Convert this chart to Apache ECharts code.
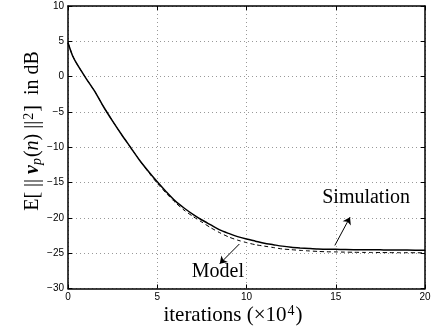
<!DOCTYPE html>
<html>
<head>
<meta charset="utf-8">
<script src="https://cdn.jsdelivr.net/npm/echarts@6/dist/echarts.min.js"></script>
<style>
  html, body { margin: 0; padding: 0; background: #fff; }
  #chart { width: 434px; height: 330px; }
</style>
</head>
<body>
<div id="chart"></div>
<script>
// iterations, in units of 1e4
var iters = [0, 0.25, 0.5, 1, 1.5, 2, 2.5, 3, 3.5, 4, 4.5, 5, 5.5, 6, 6.5, 7, 7.5, 8, 8.5, 9, 9.5,
             10, 10.5, 11, 11.5, 12, 12.5, 13, 13.5, 14, 14.5, 15, 15.5, 16, 16.5, 17, 17.5, 18, 18.5, 19, 19.5, 20];
var simulation = [4.8, 3.0, 1.8, -0.2, -2.1, -4.3, -6.3, -8.2, -10.0, -11.8, -13.4, -14.9, -16.3, -17.6, -18.6, -19.5, -20.3, -21.0, -21.7, -22.2, -22.65,
                  -23.0, -23.3, -23.6, -23.8, -24.0, -24.15, -24.25, -24.33, -24.4, -24.43, -24.45, -24.48, -24.5, -24.5, -24.5, -24.52, -24.55, -24.55, -24.55, -24.57, -24.6];
var model = [4.8, 3.0, 1.8, -0.2, -2.1, -4.3, -6.3, -8.2, -10.0, -11.8, -13.5, -15.1, -16.5, -17.8, -18.9, -19.8, -20.6, -21.4, -22.1, -22.7, -23.15,
             -23.5, -23.8, -24.0, -24.2, -24.4, -24.5, -24.6, -24.68, -24.75, -24.8, -24.82, -24.85, -24.87, -24.89, -24.9, -24.91, -24.92, -24.93, -24.93, -24.94, -24.95];

// annotation text positions and arrows (data coordinates)
var noteNames = ['Simulation', 'Model'];
var noteAt = [[16.7, -17.1], [8.4, -27.6]];
var arrowFrom = [[14.95, -23.9], [9.6, -23.7]];
var arrowTo = [[15.8, -19.9], [8.5, -26.5]];

var SERIF = '"Liberation Serif", "Times New Roman", serif';
var SANS = '"Liberation Sans", Arial, sans-serif';

function zip(xs, ys) { return xs.map(function (x, i) { return [x, ys[i]]; }); }
function minus(v) { return String(v).replace('-', '\u2212'); }

var chart = echarts.init(document.getElementById('chart'), null, { renderer: 'canvas' });

function axisCommon() {
  return {
    axisLine: { show: true, onZero: false, lineStyle: { color: '#000', width: 1.5 } },
    axisTick: { show: true, inside: true, length: 4, lineStyle: { color: '#000', width: 1 } }
  };
}

chart.setOption({
  animation: false,
  grid: { left: 68, right: 9, top: 6, bottom: 41.5, containLabel: false },
  xAxis: [
    Object.assign({
      type: 'value', min: 0, max: 20, interval: 5, position: 'bottom',
      axisLabel: { color: '#000', fontFamily: SANS, fontSize: 10, margin: 4 },
      splitLine: { show: true, lineStyle: { color: '#999', type: [1, 3], width: 1 } }
    }, axisCommon()),
    Object.assign({
      type: 'value', min: 0, max: 20, interval: 5, position: 'top',
      axisLabel: { show: false }, splitLine: { show: false }
    }, axisCommon())
  ],
  yAxis: [
    Object.assign({
      type: 'value', min: -30, max: 10, interval: 5, position: 'left',
      axisLabel: { color: '#000', fontFamily: SANS, fontSize: 10, margin: 4, formatter: minus },
      splitLine: { show: true, lineStyle: { color: '#999', type: [1, 3], width: 1 } }
    }, axisCommon()),
    Object.assign({
      type: 'value', min: -30, max: 10, interval: 5, position: 'right',
      axisLabel: { show: false }, splitLine: { show: false }
    }, axisCommon())
  ],
  series: [
    {
      name: 'Model', type: 'line', data: zip(iters, model),
      showSymbol: false, smooth: 0.25,
      lineStyle: { color: '#000', width: 1, type: [4, 3] },
      markLine: {
        silent: true, symbol: ['none', 'arrow'], symbolSize: 7,
        label: { show: false },
        lineStyle: { color: '#000', width: 1, type: 'solid' },
        data: arrowFrom.map(function (f, i) { return [{ coord: f }, { coord: arrowTo[i] }]; })
      },
      markPoint: {
        silent: true, symbol: 'circle', symbolSize: 0,
        label: { show: true, position: 'inside', formatter: '{b}', color: '#000', fontFamily: SERIF, fontSize: 20 },
        data: noteNames.map(function (n, i) { return { name: n, coord: noteAt[i] }; })
      }
    },
    {
      name: 'Simulation', type: 'line', data: zip(iters, simulation),
      showSymbol: false, smooth: 0.25,
      lineStyle: { color: '#000', width: 1.5 }
    }
  ],
  graphic: [
    {
      type: 'text', x: 233, y: 315,
      style: {
        text: '{a|iterations (\u00d710}{sup|4}{a|)}',
        align: 'center', verticalAlign: 'middle',
        rich: {
          a: { fontFamily: SERIF, fontSize: 21, fill: '#000' },
          sup: { fontFamily: SERIF, fontSize: 14, fill: '#000', verticalAlign: 'top', padding: [0, 1, 8, 1] }
        }
      }
    },
    {
      type: 'text', x: 33, y: 131, rotation: Math.PI / 2,
      style: {
        text: '{a|E[ || }{v|v}{s|p}{a|(}{i|n}{a|) ||}{sup|2}{a|]  in dB}',
        align: 'center', verticalAlign: 'middle',
        rich: {
          a: { fontFamily: SERIF, fontSize: 20, fill: '#000' },
          i: { fontFamily: SERIF, fontSize: 20, fontStyle: 'italic', fill: '#000' },
          v: { fontFamily: SERIF, fontSize: 20, fontStyle: 'italic', fontWeight: 'bold', fill: '#000' },
          s: { fontFamily: SERIF, fontSize: 14, fontStyle: 'italic', fill: '#000', verticalAlign: 'bottom', padding: [6, 1, 0, 0] },
          sup: { fontFamily: SERIF, fontSize: 14, fill: '#000', verticalAlign: 'top', padding: [0, 1, 8, 1] }
        }
      }
    }
  ]
});
</script>
</body>
</html>
